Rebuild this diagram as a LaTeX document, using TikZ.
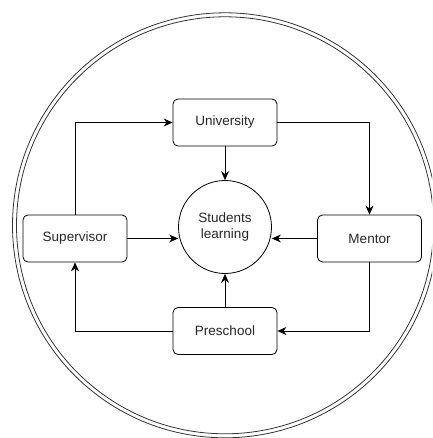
\documentclass[tikz,border=0pt]{standalone}
\usepackage{fontspec}
\setmainfont{Liberation Sans}
\usetikzlibrary{arrows.meta, positioning}

\begin{document}
\begin{tikzpicture}[x=1pt, y=-1pt,
    box/.style={draw, rounded corners=5pt, minimum width=104pt, minimum height=47pt,
      line width=0.8pt, font=\fontsize{13.5}{16}\selectfont, text=black!85},
    hub/.style={draw, circle, minimum size=93pt, inner sep=0pt, align=center,
      line width=0.8pt, font=\fontsize{13.5}{16}\selectfont, text=black!85},
    flow/.style={-{Stealth[length=9pt, width=8pt]}, line width=0.8pt}]
    \clip (0,0) rectangle (432,438);

    % outer ring
    \draw[black!80, line width=0.8pt] (225,225.3) circle (212.5);
    \draw[black!80, line width=0.8pt] (225,225.3) circle (208.5);

    \node[box] (univ) at (225,122.5) {University};
    \node[hub] (learn) at (225,227) {Students\\learning};
    \node[box] (sup) at (75,238.5) {Supervisor};
    \node[box] (ment) at (369.5,238.5) {Mentor};
    \node[box] (pre) at (225,331) {Preschool};

    % the loop round the outside
    \draw[flow] (sup.north) |- (univ.west);
    \draw[flow] (univ.east) -| (ment.north);
    \draw[flow] (ment.south) |- (pre.east);
    \draw[flow] (pre.west) -| (sup.south);

    % into the centre
    \draw[flow] (univ.south) -- (learn.north);
    \draw[flow] (pre.north) -- (learn.south);
    \draw[flow] (sup.east) -- (sup.east -| learn.west);
    \draw[flow] (ment.west) -- (ment.west -| learn.east);
\end{tikzpicture}
\end{document}
